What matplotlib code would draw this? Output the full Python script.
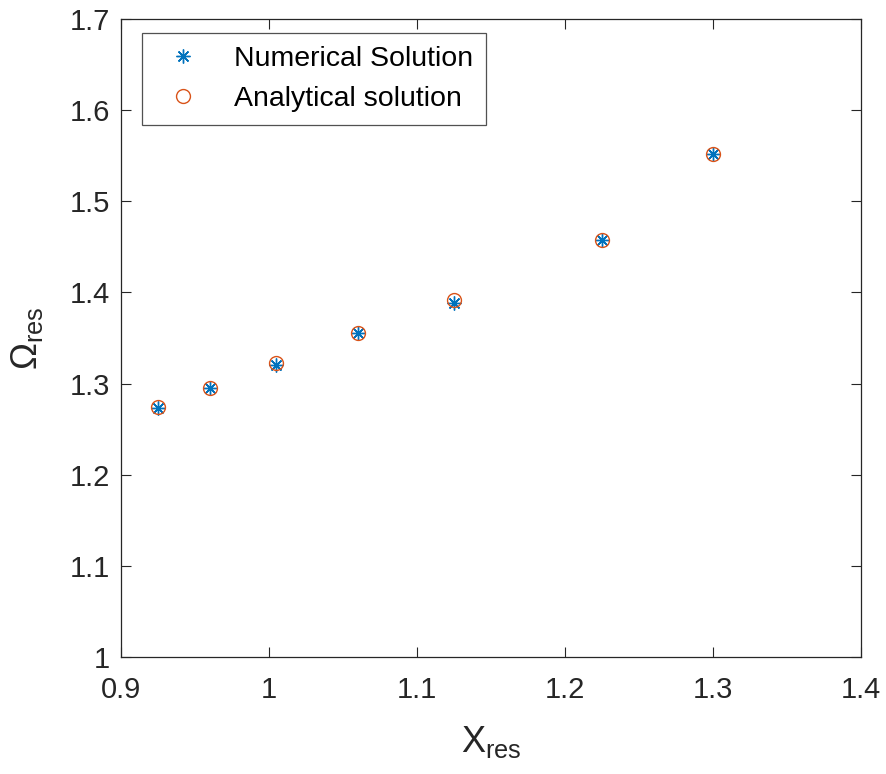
import matplotlib
matplotlib.use("Agg")
import matplotlib.pyplot as plt

x_res = [0.925, 0.96, 1.005, 1.06, 1.125, 1.225, 1.30]
omega_numerical = [1.273, 1.295, 1.320, 1.355, 1.388, 1.457, 1.552]
omega_analytical = [1.274, 1.295, 1.322, 1.355, 1.392, 1.457, 1.552]

plt.rcParams['font.family'] = ['Liberation Sans', 'DejaVu Sans']
plt.rcParams['mathtext.fontset'] = 'custom'
plt.rcParams['mathtext.rm'] = 'Liberation Sans'
plt.rcParams['mathtext.it'] = 'Liberation Sans'

fig = plt.figure(figsize=(8.86, 7.74), dpi=100)
ax = fig.add_axes([0.1366, 0.1512, 0.8352, 0.8243])

ax.plot(x_res, omega_numerical, linestyle='none', marker=(8, 2, 0), markersize=10,
        markeredgewidth=1.0, color='#0072BD', label='Numerical Solution')
ax.plot(x_res, omega_analytical, linestyle='none', marker='o', markersize=10,
        markerfacecolor='none', markeredgewidth=1.0, color='#D95319', label='Analytical solution')

ax.set_xlim(0.9, 1.4)
ax.set_ylim(1.0, 1.7)
ax.set_xticks([0.9, 1.0, 1.1, 1.2, 1.3, 1.4])
ax.set_xticklabels(['0.9', '1', '1.1', '1.2', '1.3', '1.4'])
ax.set_yticks([1.0, 1.1, 1.2, 1.3, 1.4, 1.5, 1.6, 1.7])
ax.set_yticklabels(['1', '1.1', '1.2', '1.3', '1.4', '1.5', '1.6', '1.7'])
ax.tick_params(direction='in', top=True, right=True, length=7, width=0.8,
               labelsize=21, colors='#262626')
ax.tick_params(axis='x', pad=14)
ax.tick_params(axis='y', pad=8)
for s in ax.spines.values():
    s.set_linewidth(0.9)
    s.set_color('#262626')

ax.set_xlabel(r'X$_{\mathrm{res}}$', fontsize=26, color='#262626', labelpad=14)
ax.set_ylabel(r'$\Omega_{\mathrm{res}}$', fontsize=26, color='#262626', labelpad=18)

leg = ax.legend(loc='upper left', fontsize=20.5, frameon=True, fancybox=False,
                edgecolor='#262626', borderpad=0.45, handletextpad=0.8,
                labelspacing=0.5, borderaxespad=0,
                bbox_to_anchor=(0.028, 0.978))
leg.get_frame().set_linewidth(0.9)

fig.savefig('out.png', dpi=100)
